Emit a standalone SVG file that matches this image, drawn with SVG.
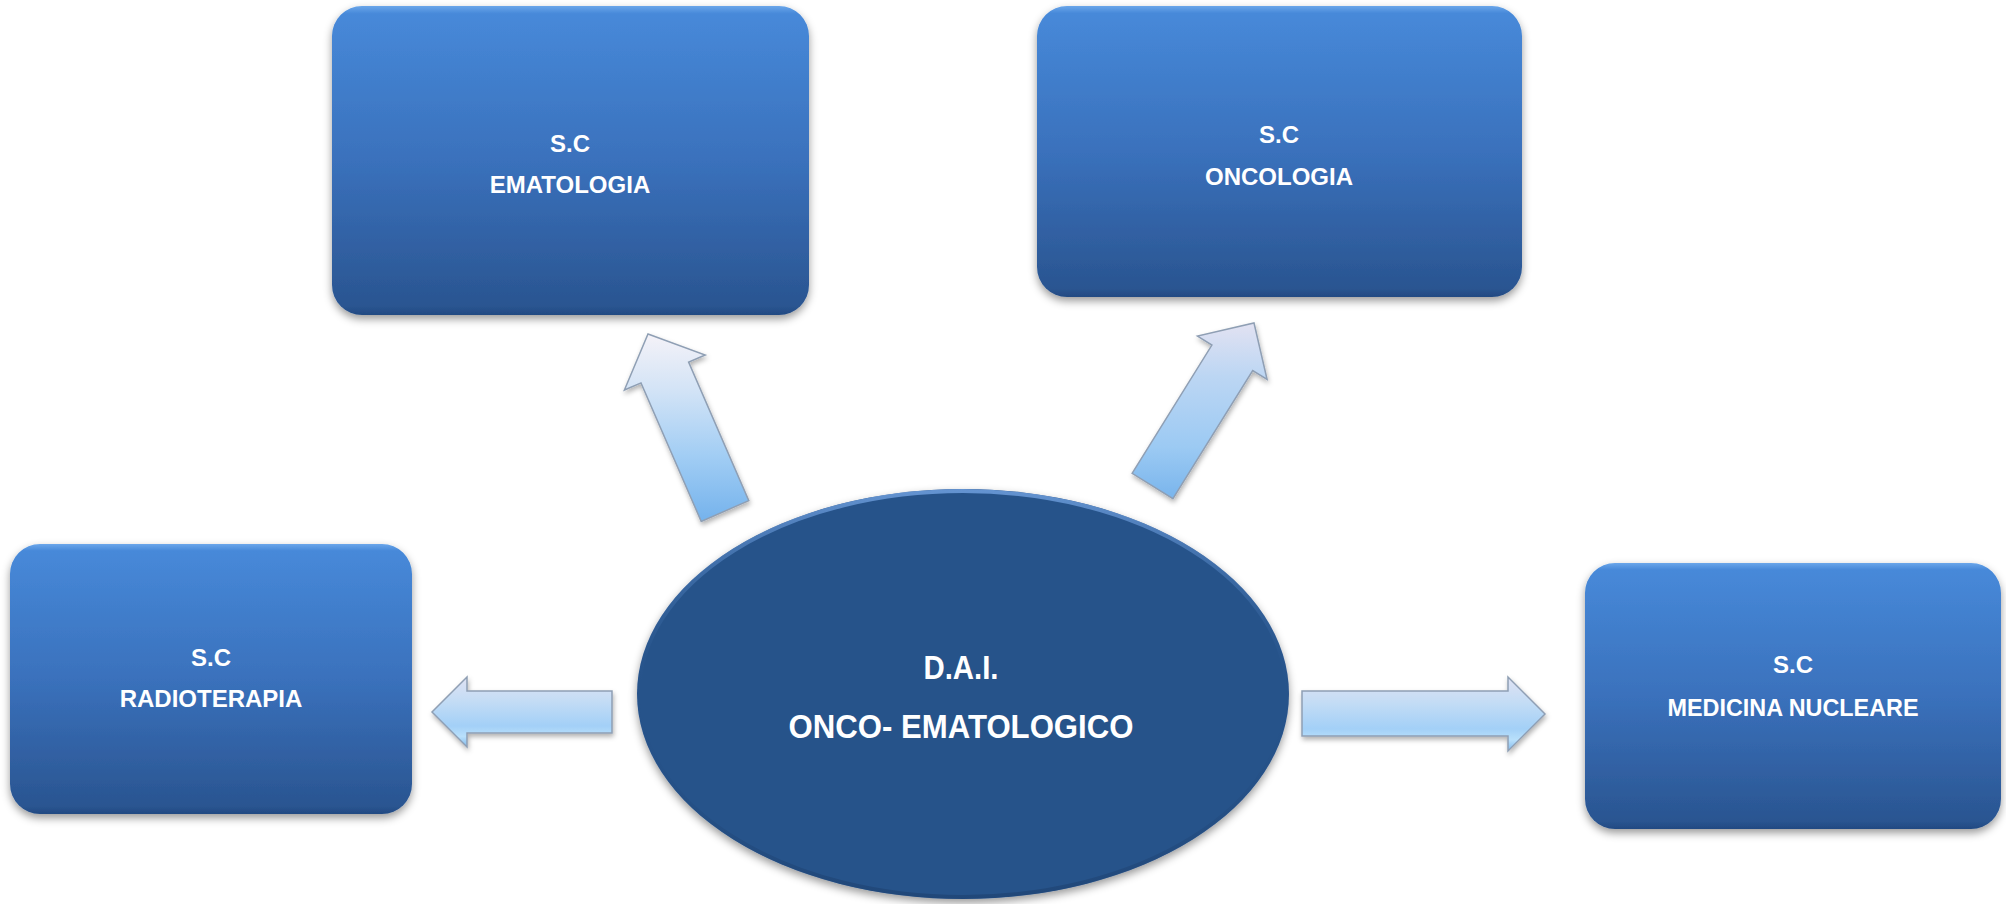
<svg xmlns="http://www.w3.org/2000/svg" width="2006" height="904" viewBox="0 0 2006 904">
  <style>
    .lbl { font-family: "Liberation Sans", Arial, sans-serif; font-weight: bold; fill: #ffffff; text-anchor: middle; }
    .box-t { font-size: 24px; }
    .main-t { font-size: 34px; }
    .box { fill: url(#boxGrad); filter: url(#shadow); }
    .arrow { stroke: #8f9fb4; stroke-width: 1.5; stroke-linejoin: miter; filter: url(#ashadow); }
  </style>
  <defs>
    <linearGradient id="boxGrad" x1="0" y1="0" x2="0" y2="1">
      <stop offset="0" stop-color="#6aa6ea"/>
      <stop offset="0.025" stop-color="#4789d9"/>
      <stop offset="0.5" stop-color="#3a71bc"/>
      <stop offset="0.97" stop-color="#2a5591"/>
      <stop offset="1" stop-color="#224a82"/>
    </linearGradient>
    <linearGradient id="rimGrad" x1="0" y1="0" x2="0" y2="1">
      <stop offset="0" stop-color="#6a9ad8" stop-opacity="0.9"/>
      <stop offset="0.25" stop-color="#4f7fbd" stop-opacity="0.4"/>
      <stop offset="0.5" stop-color="#27528a" stop-opacity="0"/>
      <stop offset="1" stop-color="#1d406e" stop-opacity="0.6"/>
    </linearGradient>
    <linearGradient id="agUL" gradientUnits="userSpaceOnUse" x1="0" y1="335" x2="0" y2="522">
      <stop offset="0" stop-color="#f4f2f8"/>
      <stop offset="0.3" stop-color="#d2e3f6"/>
      <stop offset="0.65" stop-color="#a1cdf4"/>
      <stop offset="1" stop-color="#74b2ec"/>
    </linearGradient>
    <linearGradient id="agUR" gradientUnits="userSpaceOnUse" x1="0" y1="323" x2="0" y2="500">
      <stop offset="0" stop-color="#e2e2f2"/>
      <stop offset="0.3" stop-color="#bcd6f3"/>
      <stop offset="0.7" stop-color="#9ccaf3"/>
      <stop offset="1" stop-color="#78b4ec"/>
    </linearGradient>
    <linearGradient id="agH" x1="0" y1="0" x2="0" y2="1">
      <stop offset="0" stop-color="#dfe2f3"/>
      <stop offset="0.35" stop-color="#c3dcf5"/>
      <stop offset="0.7" stop-color="#a3d0f7"/>
      <stop offset="0.85" stop-color="#b9e0fb"/>
      <stop offset="1" stop-color="#80b9ec"/>
    </linearGradient>
    <filter id="shadow" x="-10%" y="-10%" width="120%" height="125%">
      <feDropShadow dx="0" dy="4" stdDeviation="4" flood-color="#000000" flood-opacity="0.4"/>
    </filter>
    <filter id="ashadow" x="-20%" y="-20%" width="140%" height="150%">
      <feDropShadow dx="1" dy="3" stdDeviation="2.5" flood-color="#000000" flood-opacity="0.3"/>
    </filter>
  </defs>

  <g id="connectors">
    <polygon class="arrow" fill="url(#agUL)" points="701.2,521.4 641.0,382.9 624.4,390.0 648.0,334.0 705.2,355.0 688.6,362.1 748.8,500.6"/>
    <polygon class="arrow" fill="url(#agUR)" points="1132.1,473.3 1211.9,345.1 1197.5,336.1 1254.0,323.0 1267.1,379.5 1252.7,370.5 1172.9,498.7"/>
    <polygon class="arrow" fill="url(#agH)" points="612,691 467,691 467,677 432,712 467,747 467,733 612,733"/>
    <polygon class="arrow" fill="url(#agH)" points="1302,691 1508,691 1508,677 1545,714 1508,751 1508,736 1302,736"/>
  </g>

  <g id="node-ematologia">
    <rect class="box" x="332" y="6" width="477" height="309" rx="30" ry="30"/>
    <text class="lbl box-t" x="570" y="152">S.C</text>
    <text class="lbl box-t" x="570" y="193">EMATOLOGIA</text>
  </g>

  <g id="node-oncologia">
    <rect class="box" x="1037" y="6" width="485" height="291" rx="30" ry="30"/>
    <text class="lbl box-t" x="1279" y="143">S.C</text>
    <text class="lbl box-t" x="1279" y="185">ONCOLOGIA</text>
  </g>

  <g id="node-radioterapia">
    <rect class="box" x="10" y="544" width="402" height="270" rx="30" ry="30"/>
    <text class="lbl box-t" x="211" y="666">S.C</text>
    <text class="lbl box-t" x="211" y="707">RADIOTERAPIA</text>
  </g>

  <g id="node-medicina-nucleare">
    <rect class="box" x="1585" y="563" width="416" height="266" rx="30" ry="30"/>
    <text class="lbl box-t" x="1793" y="673">S.C</text>
    <text class="lbl box-t" x="1793" y="716" textLength="251" lengthAdjust="spacingAndGlyphs">MEDICINA NUCLEARE</text>
  </g>

  <g id="node-dai">
    <ellipse cx="963" cy="694" rx="326" ry="205" fill="#27528a" filter="url(#shadow)"/>
    <ellipse cx="963" cy="694" rx="324" ry="203" fill="none" stroke="url(#rimGrad)" stroke-width="4"/>
    <text class="lbl main-t" x="961" y="679" textLength="75" lengthAdjust="spacingAndGlyphs">D.A.I.</text>
    <text class="lbl main-t" x="961" y="738" textLength="345" lengthAdjust="spacingAndGlyphs">ONCO- EMATOLOGICO</text>
  </g>
</svg>
